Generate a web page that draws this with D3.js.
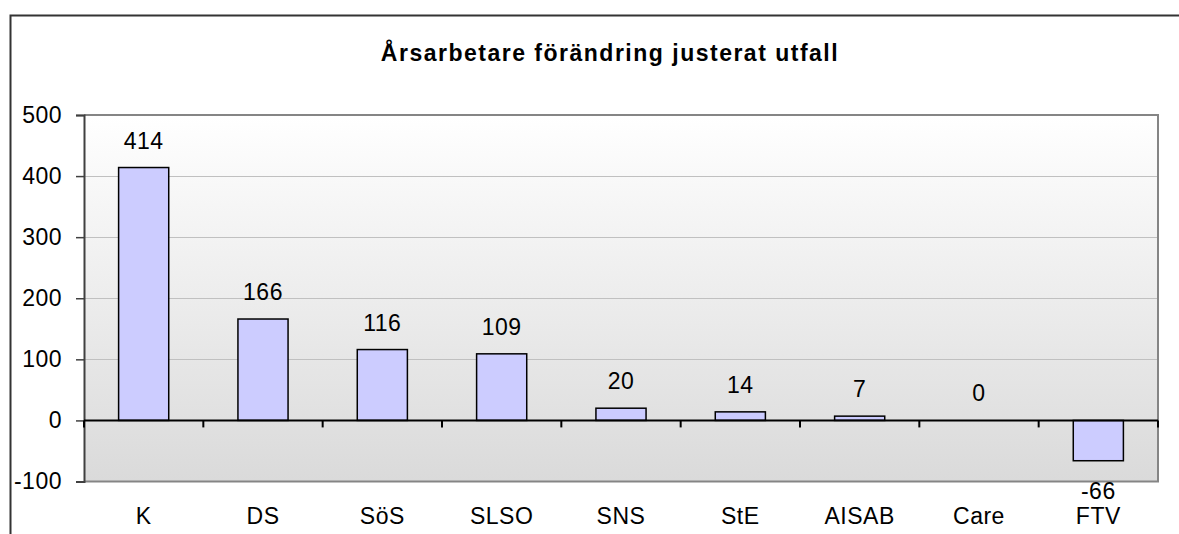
<!DOCTYPE html>
<meta charset="utf-8">
<style>
body { margin: 0; background: #fff; }
text { font-family: "Liberation Sans", Arial, sans-serif; fill: #000; }
</style>
<body>
<script src="https://d3js.org/d3.v7.min.js"></script>
<script>

// chart data
var categories = ["K", "DS", "SöS", "SLSO", "SNS", "StE", "AISAB", "Care", "FTV"];
var values = [414, 166, 116, 109, 20, 14, 7, 0, -66];
var yTicks = [-100, 0, 100, 200, 300, 400, 500];
var title = "Årsarbetare förändring justerat utfall";

var W = 1179, H = 534;
var plot = {left: 84, right: 1158, top: 115, bottom: 481.5};

var svg = d3.select("body").append("svg")
    .attr("width", W)
    .attr("height", H);

// gradient for the plot area
var grad = svg.append("defs").append("linearGradient")
    .attr("id", "bg")
    .attr("x1", 0).attr("y1", 0).attr("x2", 0).attr("y2", 1);
grad.append("stop").attr("offset", "0%").attr("stop-color", "#ffffff");
grad.append("stop").attr("offset", "100%").attr("stop-color", "#dadada");

// outer frame (runs off the right and bottom edges)
svg.append("rect")
    .attr("x", 10.5).attr("y", 15.5)
    .attr("width", W + 20).attr("height", H + 20)
    .attr("fill", "none")
    .attr("stroke", "#333")
    .attr("stroke-width", 2);

// title
svg.append("text")
    .attr("x", 610).attr("y", 61)
    .attr("text-anchor", "middle")
    .style("font-size", "23px")
    .style("font-weight", "bold")
    .style("letter-spacing", "1.5px")
    .text(title);

// scales
var x = d3.scaleBand()
    .domain(categories)
    .range([plot.left, plot.right])
    .paddingInner(0.58)
    .paddingOuter(0.29);

var y = d3.scaleLinear()
    .domain([-100, 500])
    .range([plot.bottom, plot.top]);

// plot background
svg.append("rect")
    .attr("x", plot.left).attr("y", plot.top)
    .attr("width", plot.right - plot.left)
    .attr("height", plot.bottom - plot.top)
    .attr("fill", "url(#bg)");

// gridlines
svg.append("g")
  .selectAll("line")
  .data(yTicks.filter(function(d) { return d > 0 && d < 500; }))
  .enter().append("line")
    .attr("x1", plot.left).attr("x2", plot.right)
    .attr("y1", function(d) { return Math.round(y(d)) + 0.5; })
    .attr("y2", function(d) { return Math.round(y(d)) + 0.5; })
    .attr("stroke", "#c0c0c0");

// plot border (top, right, bottom)
svg.append("path")
    .attr("d", "M" + plot.left + "," + plot.top + "H" + plot.right + "V" + plot.bottom + "H" + plot.left)
    .attr("fill", "none")
    .attr("stroke", "#858585")
    .attr("stroke-width", 2);

// y axis
var yAxis = svg.append("g")
    .attr("transform", "translate(" + plot.left + ",0)")
    .call(d3.axisLeft(y).tickValues(yTicks).tickSize(8).tickPadding(14).tickFormat(String));
yAxis.select(".domain").attr("stroke", "#404040").attr("stroke-width", 2);
yAxis.selectAll(".tick line").attr("stroke", "#404040").attr("stroke-width", 1.5);
yAxis.selectAll(".tick text")
    .style("font-size", "23px")
    .style("letter-spacing", "0.5px")
    .style("font-family", "'Liberation Sans', Arial, sans-serif")
    .attr("fill", "#000");

// bars
svg.append("g")
  .selectAll("rect")
  .data(values)
  .enter().append("rect")
    .attr("x", function(d, i) { return x(categories[i]); })
    .attr("y", function(d) { return y(Math.max(0, d)); })
    .attr("width", x.bandwidth())
    .attr("height", function(d) { return Math.abs(y(d) - y(0)); })
    .attr("fill", "#ccccff")
    .attr("stroke", "#000")
    .attr("stroke-width", 1.5);

// zero line with category boundary ticks
var zero = y(0);
svg.append("line")
    .attr("x1", plot.left).attr("x2", plot.right)
    .attr("y1", zero).attr("y2", zero)
    .attr("stroke", "#000")
    .attr("stroke-width", 2);

var bounds = d3.range(categories.length + 1).map(function(i) {
  return plot.left + i * x.step();
});
svg.append("g")
  .selectAll("line")
  .data(bounds)
  .enter().append("line")
    .attr("x1", function(d) { return d; })
    .attr("x2", function(d) { return d; })
    .attr("y1", zero).attr("y2", zero + 7)
    .attr("stroke", "#000")
    .attr("stroke-width", 2);

// value labels
svg.append("g")
  .selectAll("text")
  .data(values)
  .enter().append("text")
    .attr("x", function(d, i) { return x(categories[i]) + x.bandwidth() / 2; })
    .attr("y", function(d) { return d < 0 ? y(d) + 38 : y(d) - 19; })
    .attr("text-anchor", "middle")
    .style("font-size", "23px")
    .style("letter-spacing", "0.5px")
    .text(function(d) { return d; });

// category labels
svg.append("g")
  .selectAll("text")
  .data(categories)
  .enter().append("text")
    .attr("x", function(d) { return x(d) + x.bandwidth() / 2; })
    .attr("y", 524)
    .attr("text-anchor", "middle")
    .style("font-size", "23px")
    .style("letter-spacing", "0.5px")
    .text(function(d) { return d; });

</script>
</body>
